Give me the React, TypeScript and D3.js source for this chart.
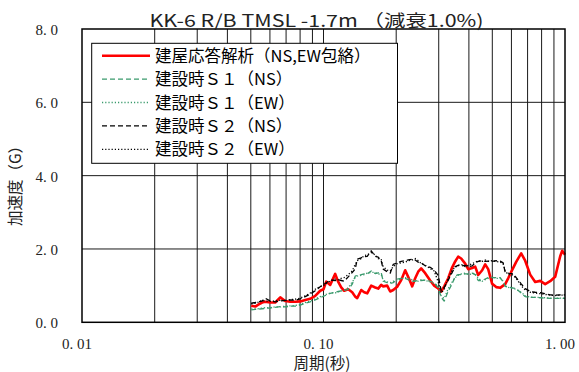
import React from "react";
import * as d3 from "d3";

// Periods (s) shared by every spectrum
const periods = [
  0.0502, 0.0522, 0.0537, 0.0557, 0.0573, 0.0602, 0.0631, 0.0662, 0.0694, 0.0728,
  0.0764, 0.0801, 0.084, 0.0881, 0.0924, 0.0969, 0.1, 0.1026, 0.1066, 0.1118,
  0.1151, 0.1184, 0.1218, 0.1266, 0.1315, 0.1353, 0.1379, 0.1433, 0.1474, 0.1517,
  0.1576, 0.1637, 0.1685, 0.1733, 0.1767, 0.1835, 0.1889, 0.1944, 0.2019, 0.2098,
  0.2179, 0.2242, 0.233, 0.2397, 0.2467, 0.2538, 0.2637, 0.2766, 0.2873, 0.2985,
  0.3072, 0.3161, 0.3284, 0.3411, 0.351, 0.3612, 0.3717, 0.3861, 0.3973, 0.4128,
  0.4247, 0.4371, 0.454, 0.4672, 0.4808, 0.4994, 0.5188, 0.539, 0.5546, 0.5653,
  0.5817, 0.6044, 0.6279, 0.6585, 0.6842, 0.7176, 0.7525, 0.7894, 0.8279, 0.8682,
  0.9105, 0.9553, 0.9737, 1.0,
];

// 建屋応答解析（NS,EW包絡）
const responseEnvelope = [
  0.45, 0.43, 0.48, 0.54, 0.56, 0.54, 0.54, 0.68, 0.58, 0.56,
  0.56, 0.57, 0.61, 0.64, 0.72, 0.86, 0.9, 1.11, 1.02, 1.32,
  1.1, 0.95, 0.86, 0.9, 0.82, 0.7, 0.66, 0.88, 0.82, 0.79,
  1.0, 0.95, 0.92, 1.02, 0.98, 1.0, 0.84, 0.88, 0.97, 1.15,
  1.42, 1.24, 0.98, 1.2, 1.38, 1.47, 1.34, 1.14, 1.0, 0.92,
  0.84, 0.98, 1.2, 1.5, 1.66, 1.79, 1.74, 1.6, 1.45, 1.48,
  1.52, 1.29, 1.42, 1.58, 1.45, 1.05, 0.96, 0.94, 1.0, 1.04,
  1.2, 1.43, 1.65, 1.88, 1.68, 1.3, 1.1, 1.13, 1.04, 1.12,
  1.24, 1.8, 1.95, 1.84,
];

// 建設時Ｓ１（NS）
const s1NS = [
  0.34, 0.35, 0.36, 0.37, 0.38, 0.39, 0.41, 0.43, 0.42, 0.44,
  0.44, 0.47, 0.52, 0.56, 0.61, 0.67, 0.71, 0.74, 0.79, 0.82,
  0.84, 0.86, 0.87, 0.9, 1.04, 1.26, 1.28, 1.3, 1.32, 1.32,
  1.4, 1.33, 1.35, 1.36, 1.12, 1.08, 1.06, 1.08, 1.18, 1.2,
  1.2, 1.16, 1.12, 1.12, 1.14, 1.14, 1.15, 1.12, 1.08, 0.95,
  0.68, 0.58, 0.85, 1.05, 1.26, 1.3, 1.3, 1.32, 1.32, 1.34,
  1.3, 1.14, 1.14, 1.18, 1.22, 1.22, 1.22, 1.22, 1.1, 0.98,
  0.96, 0.94, 0.92, 0.8, 0.7, 0.68, 0.68, 0.67, 0.66, 0.65,
  0.65, 0.65, 0.65, 0.65,
];

// 建設時Ｓ１（EW）
const s1EW = [
  0.36, 0.37, 0.37, 0.39, 0.4, 0.4, 0.42, 0.42, 0.44, 0.45,
  0.46, 0.49, 0.54, 0.58, 0.64, 0.7, 0.72, 0.76, 0.8, 0.8,
  0.83, 0.85, 0.88, 0.94, 1.1, 1.22, 1.26, 1.28, 1.3, 1.34,
  1.36, 1.36, 1.32, 1.3, 1.15, 1.1, 1.08, 1.12, 1.14, 1.18,
  1.22, 1.2, 1.16, 1.14, 1.12, 1.16, 1.14, 1.1, 1.06, 1.0,
  0.72, 0.65, 0.92, 1.1, 1.22, 1.28, 1.32, 1.34, 1.3, 1.32,
  1.34, 1.2, 1.12, 1.16, 1.2, 1.24, 1.2, 1.2, 1.12, 1.0,
  0.95, 0.93, 0.9, 0.82, 0.72, 0.69, 0.68, 0.68, 0.67, 0.66,
  0.66, 0.66, 0.66, 0.66,
];

// 建設時Ｓ２（NS）
const s2NS = [
  0.52, 0.54, 0.56, 0.58, 0.66, 0.58, 0.56, 0.58, 0.6, 0.61,
  0.6, 0.64, 0.7, 0.77, 0.86, 0.97, 1.02, 1.08, 1.15, 1.14,
  1.16, 1.14, 1.12, 1.24, 1.36, 1.45, 1.72, 1.76, 1.79, 1.8,
  1.95, 1.8, 1.78, 1.68, 1.45, 1.38, 1.34, 1.58, 1.62, 1.66,
  1.68, 1.7, 1.72, 1.7, 1.64, 1.62, 1.54, 1.5, 1.42, 1.28,
  0.86, 0.95, 1.15, 1.36, 1.52, 1.55, 1.54, 1.55, 1.52, 1.54,
  1.62, 1.66, 1.68, 1.66, 1.67, 1.66, 1.68, 1.67, 1.62, 1.36,
  1.34, 1.33, 1.22, 1.05, 0.92, 0.84, 0.82, 0.81, 0.78, 0.75,
  0.74, 0.75, 0.75, 0.75,
];

// 建設時Ｓ２（EW）
const s2EW = [
  0.5, 0.52, 0.55, 0.6, 0.58, 0.57, 0.58, 0.6, 0.59, 0.62,
  0.63, 0.66, 0.72, 0.8, 0.9, 0.98, 1.0, 1.06, 1.12, 1.18,
  1.16, 1.2, 1.22, 1.3, 1.4, 1.58, 1.68, 1.74, 1.82, 1.84,
  1.9, 1.84, 1.74, 1.72, 1.52, 1.42, 1.4, 1.52, 1.6, 1.62,
  1.64, 1.68, 1.7, 1.74, 1.68, 1.6, 1.56, 1.46, 1.4, 1.1,
  0.8, 0.9, 1.2, 1.42, 1.5, 1.56, 1.58, 1.52, 1.55, 1.6,
  1.64, 1.68, 1.66, 1.7, 1.66, 1.68, 1.66, 1.64, 1.6, 1.4,
  1.3, 1.3, 1.2, 1.0, 0.88, 0.82, 0.8, 0.78, 0.76, 0.74,
  0.73, 0.74, 0.74, 0.74,
];

const yTicks = [0, 2, 4, 6, 8];
const yTickLabels = ["0. 0", "2. 0", "4. 0", "6. 0", "8. 0"];
const xTicks = [0.01, 0.1, 1];
const xTickLabels = ["0. 01", "0. 10", "1. 00"];

const seriesNames = [
  "建屋応答解析（NS,EW包絡）",
  "建設時Ｓ１（NS）",
  "建設時Ｓ１（EW）",
  "建設時Ｓ２（NS）",
  "建設時Ｓ２（EW）",
];

const W = 579;
const H = 372;
const plot = { left: 82, right: 565, top: 29, bottom: 322.3 };

const GREEN = "#3a9a6c";
const seriesStyles = [
  { color: "#ff0000", width: 2.6, dash: "" },
  { color: GREEN, width: 1.3, dash: "5,3" },
  { color: GREEN, width: 1.3, dash: "1.2,2" },
  { color: "#000000", width: 1.3, dash: "5,3" },
  { color: "#000000", width: 1.3, dash: "1.2,2" },
];

const gothic = "'Noto Sans CJK JP', 'Noto Sans', sans-serif";
const mincho = "'Liberation Serif', 'DejaVu Serif', serif";

export default function App() {
  const x = d3.scaleLog().domain([0.01, 1]).range([plot.left, plot.right]);
  const y = d3.scaleLinear().domain([0, 8]).range([plot.bottom, plot.top]);

  const seriesValues = [responseEnvelope, s1NS, s1EW, s2NS, s2EW];
  const line = d3
    .line<[number, number]>()
    .x((d) => x(d[0]))
    .y((d) => y(d[1]));

  const gridX = x.ticks().filter((t) => t > 0.0101 && t < 0.99);
  const gridY = yTicks.filter((t) => t > 0 && t < 8);

  const legend = { x: 91.7, y: 43.3, w: 305.8, h: 120, row0: 55.7, rowStep: 23.4 };

  return (
    <svg
      width={W}
      height={H}
      viewBox={`0 0 ${W} ${H}`}
      style={{ position: "absolute", left: 0, top: 0, background: "#fff" }}
    >
      <rect x={0} y={0} width={W} height={H} fill="#fff" />

      {/* grid */}
      {gridX.map((t) => (
        <line
          key={`gx${t}`}
          x1={x(t)}
          x2={x(t)}
          y1={plot.top}
          y2={plot.bottom}
          stroke="#1a1a1a"
          strokeWidth={1}
        />
      ))}
      {gridY.map((t) => (
        <line
          key={`gy${t}`}
          x1={plot.left}
          x2={plot.right}
          y1={y(t)}
          y2={y(t)}
          stroke="#1a1a1a"
          strokeWidth={1}
        />
      ))}

      {/* spectra */}
      {seriesValues.map((vals, i) => (
        <path
          key={`s${i}`}
          d={line(periods.map((p, j) => [p, vals[j]] as [number, number])) || ""}
          fill="none"
          stroke={seriesStyles[i].color}
          strokeWidth={seriesStyles[i].width}
          strokeDasharray={seriesStyles[i].dash || undefined}
          strokeLinejoin="round"
        />
      ))}

      {/* frame */}
      <rect
        x={plot.left}
        y={plot.top}
        width={plot.right - plot.left}
        height={plot.bottom - plot.top}
        fill="none"
        stroke="#000"
        strokeWidth={1.5}
      />

      {/* legend */}
      <rect
        x={legend.x}
        y={legend.y}
        width={legend.w}
        height={legend.h}
        fill="#fff"
        stroke="#000"
        strokeWidth={1}
      />
      {seriesNames.map((name, i) => {
        const ly = legend.row0 + i * legend.rowStep;
        return (
          <g key={`l${i}`}>
            <line
              x1={102}
              x2={150}
              y1={ly}
              y2={ly}
              stroke={seriesStyles[i].color}
              strokeWidth={seriesStyles[i].width}
              strokeDasharray={seriesStyles[i].dash || undefined}
            />
            <text
              x={155}
              y={ly + 6}
              fontFamily={gothic}
              fontSize={16.5}
              fill="#000"
            >
              {name}
            </text>
          </g>
        );
      })}

      {/* y tick labels */}
      {yTicks.map((t, i) => (
        <text
          key={`yt${t}`}
          x={58}
          y={y(t) + 6}
          textAnchor="end"
          fontFamily={mincho}
          fontSize={15}
          fill="#222"
        >
          {yTickLabels[i]}
        </text>
      ))}

      {/* x tick labels */}
      {xTicks.map((t, i) => (
        <text
          key={`xt${t}`}
          x={x(t) - 5}
          y={349}
          textAnchor="middle"
          fontFamily={mincho}
          fontSize={15}
          fill="#222"
        >
          {xTickLabels[i]}
        </text>
      ))}

      {/* titles */}
      <text
        x={316.5}
        y={27}
        textAnchor="middle"
        fontFamily={gothic}
        fontSize={17}
        fill="#222"
        textLength={334}
        lengthAdjust="spacingAndGlyphs"
      >
        KK-6 R/B TMSL -1.7m （減衰1.0%)
      </text>
      <text
        x={322}
        y={369}
        textAnchor="middle"
        fontFamily={gothic}
        fontSize={15.5}
        fill="#222"
      >
        周期(秒)
      </text>
      <text
        transform={`translate(21, 182) rotate(-90)`}
        textAnchor="middle"
        fontFamily={gothic}
        fontSize={15.5}
        fill="#222"
      >
        加速度（G）
      </text>
    </svg>
  );
}
